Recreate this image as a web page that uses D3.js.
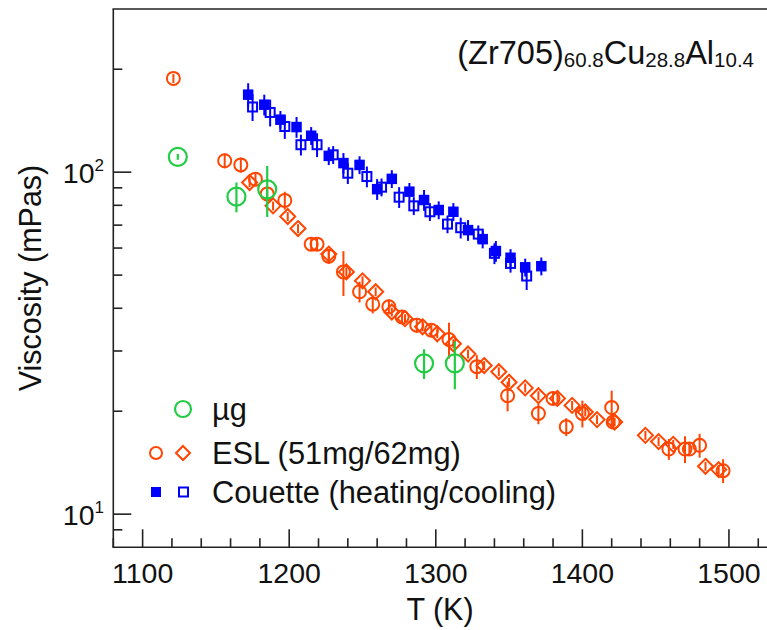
<!DOCTYPE html>
<html><head><meta charset="utf-8">
<script src="https://cdn.jsdelivr.net/npm/d3@7"></script>
<style>
body{margin:0;background:#fff}
svg{display:block}
text{font-family:"Liberation Sans",Arial,Helvetica,sans-serif;fill:#111}
</style>
</head><body>
<svg id="chart" width="767" height="630"></svg>
<script>
// ---- data ----
const xTicks = [1100, 1200, 1300, 1400, 1500];
const yMajor = [10, 100];
const yTickLabels = [["10","1"],["10","2"]];

const ugT   = [1124, 1164, 1185, 1292, 1313];
const ugV   = [110.9, 84.8, 89.1, 27.6, 27.6];
const ugErr = [2, 10, 17, 10, 16]; // percent

const esl51T = [1121,1156,1167,1177,1185,1197,1215,1219,1227,1237,1248,1257,1268,1277,1287,1297,1309,1328,1349,1370,1380,1389,1400,1420,1421,1459,1470,1473,1480,1496];
const esl51V = [188,108,105,95.4,86.4,82.7,61.6,61.6,56.8,51.1,44.7,41.1,40.4,37.7,35.7,34.5,32.4,27.0,22.2,19.7,21.8,18.0,19.7,20.5,18.6,15.5,15.5,15.5,15.9,13.4];
const esl51Err = [3,5,5,4,5,6,4,4,5,15,7,6,5,4,5,4,12,8,10,7,4,6,9,12,4,7,9,4,8,8];

const esl62T = [1173,1189,1199,1206,1227,1239,1250,1259,1270,1279,1291,1301,1312,1322,1333,1343,1350,1361,1370,1383,1393,1402,1410,1422,1443,1452,1462,1484,1493];
const esl62V = [93.3,79.7,74.2,68.4,57.6,51.1,48.1,44.7,39.0,37.3,35.3,33.7,31.5,29.4,27.2,26.1,24.3,23.4,22.2,21.8,20.8,19.9,18.9,18.6,17.0,16.3,16.0,13.8,13.5];
const esl62Err = [3,3,3,3,3,3,3,3,3,3,3,3,3,3,3,3,3,3,3,3,3,3,3,3,3,3,3,3,3];

const heatT = [1172,1183,1194,1205,1215,1227,1237,1248,1260,1270,1282,1292,1302,1312,1322,1332,1341,1351,1361,1372];
const heatV = [168.5,157.5,142.4,135.5,127.8,111.6,106.3,105.0,89.2,95.6,87.7,82.9,77.5,76.6,67.7,63.7,58.8,56.2,52.7,53.1];
const heatErr = [8,7,6,7,6,6,7,6,7,6,6,7,6,6,7,6,7,6,6,6];

const coolT = [1175,1187,1197,1208,1219,1230,1240,1253,1263,1275,1285,1296,1308,1317,1329,1340,1351,1362];
const coolV = [155.1,149.5,136.0,120.3,120.3,112.4,99.3,97.1,90.4,84.5,79.7,76.6,70.5,68.8,65.9,57.9,54.1,49.7];
const coolErr = [9,9,8,7,8,6,7,7,6,7,6,6,6,7,6,7,6,9];

const legendLabels = ["\u00b5g", "ESL (51mg/62mg)", "Couette (heating/cooling)"];

// ---- colours ----
const cGreen = "#22cc44", cOrange = "#ff4500", cBlue = "#0000ff", cAxis = "#222";

// ---- scales ----
const svg = d3.select("#chart");
const x = d3.scaleLinear().domain([1080, 1525]).range([113.3, 765.6]);
const y = d3.scaleLog().domain([8, 300]).range([547.3, 9]);

// ---- frame / axes ----
const axisG = svg.append("g").attr("stroke", cAxis).attr("stroke-width", 1.6).attr("fill","none");
axisG.append("line").attr("x1", 113.3).attr("x2", 113.3).attr("y1", 9).attr("y2", 547.3);
axisG.append("line").attr("x1", 112.5).attr("x2", 767).attr("y1", 547.3).attr("y2", 547.3);
axisG.append("line").attr("x1", 112.5).attr("x2", 767).attr("y1", 9).attr("y2", 9);

// x ticks
const xMinor = d3.range(1080, 1525, 20).filter(t => !xTicks.includes(t));
axisG.selectAll(".xmaj").data(xTicks).join("line")
  .attr("x1", d => x(d)).attr("x2", d => x(d)).attr("y1", 547.3).attr("y2", 529.3);
axisG.selectAll(".xmin").data(xMinor).join("line")
  .attr("x1", d => x(d)).attr("x2", d => x(d)).attr("y1", 547.3).attr("y2", 538.3);
svg.selectAll(".xlab").data(xTicks).join("text")
  .attr("x", d => x(d)).attr("y", 583).attr("text-anchor", "middle")
  .attr("font-size", 28.5).text(d => d);

// y ticks
const yMinorTicks = y.ticks().filter(v => !yMajor.includes(v) && v > 8 && v < 300);
axisG.selectAll(".ymaj").data(yMajor).join("line")
  .attr("x1", 113.3).attr("x2", 131.3).attr("y1", d => y(d)).attr("y2", d => y(d));
axisG.selectAll(".ymin").data(yMinorTicks).join("line")
  .attr("x1", 113.3).attr("x2", 122.3).attr("y1", d => y(d)).attr("y2", d => y(d));
const ylab = svg.selectAll(".ylab").data(yMajor).join("text")
  .attr("x", 104).attr("y", d => y(d) + 10.7).attr("text-anchor", "end").attr("font-size", 28.5);
ylab.append("tspan").text((d, i) => yTickLabels[i][0]);
ylab.append("tspan").attr("dy", -11.5).attr("font-size", 17).text((d, i) => yTickLabels[i][1]);

// axis titles
svg.append("text").attr("x", 440).attr("y", 619.5).attr("text-anchor", "middle")
  .attr("font-size", 30.5).text("T (K)");
svg.append("text").attr("transform", "translate(41,278) rotate(-90)").attr("text-anchor", "middle")
  .attr("font-size", 30.5).text("Viscosity (mPas)");

// composition title
const title = svg.append("text").attr("x", 754).attr("y", 63.5).attr("text-anchor", "end").attr("font-size", 32.5);
[["(Zr705)", false], ["60.8", true], ["Cu", false], ["28.8", true], ["Al", false], ["10.4", true]].forEach(([s, sub]) => {
  title.append("tspan").attr("font-size", sub ? 20.5 : 32.5).attr("dy", sub ? 3 : -3).text(s);
});
title.select("tspan").attr("dy", 0);

// ---- helpers ----
function errBars(g, T, V, E, color, w) {
  g.selectAll(null).data(T.map((t, i) => ({t, v: V[i], e: E[i]}))).join("line")
    .attr("x1", d => x(d.t)).attr("x2", d => x(d.t))
    .attr("y1", d => y(d.v * (1 + d.e / 100))).attr("y2", d => y(d.v * (1 - d.e / 100)))
    .attr("stroke", color).attr("stroke-width", w);
}
function circles(g, T, V, r, color, w) {
  g.selectAll(null).data(T.map((t, i) => ({t, v: V[i]}))).join("circle")
    .attr("cx", d => x(d.t)).attr("cy", d => y(d.v)).attr("r", r)
    .attr("fill", "none").attr("stroke", color).attr("stroke-width", w);
}
function diamonds(g, T, V, s, color, w) {
  g.selectAll(null).data(T.map((t, i) => ({t, v: V[i]}))).join("path")
    .attr("d", d => { const cx = x(d.t), cy = y(d.v); return `M${cx},${cy - s}L${cx + s},${cy}L${cx},${cy + s}L${cx - s},${cy}Z`; })
    .attr("fill", "none").attr("stroke", color).attr("stroke-width", w);
}
function squares(g, T, V, s, color, filled, w) {
  g.selectAll(null).data(T.map((t, i) => ({t, v: V[i]}))).join("rect")
    .attr("x", d => x(d.t) - s / 2).attr("y", d => y(d.v) - s / 2).attr("width", s).attr("height", s)
    .attr("fill", filled ? color : "none").attr("stroke", filled ? "none" : color).attr("stroke-width", w);
}

// ---- data marks ----
const gBlue = svg.append("g");
errBars(gBlue, coolT, coolV, coolErr, cBlue, 2);
squares(gBlue, coolT, coolV, 9, cBlue, false, 2);
errBars(gBlue, heatT, heatV, heatErr, cBlue, 2);
squares(gBlue, heatT, heatV, 10.5, cBlue, true, 0);

const gOr = svg.append("g");
errBars(gOr, esl62T, esl62V, esl62Err, cOrange, 2);
diamonds(gOr, esl62T, esl62V, 7.5, cOrange, 2);
errBars(gOr, esl51T, esl51V, esl51Err, cOrange, 2);
circles(gOr, esl51T, esl51V, 6.5, cOrange, 2);

const gGr = svg.append("g");
errBars(gGr, ugT, ugV, ugErr, cGreen, 2.2);
circles(gGr, ugT, ugV, 9, cGreen, 2.2);

// ---- legend ----
const lg = svg.append("g");
const ly = [409, 453, 492];
lg.append("circle").attr("cx", 183).attr("cy", ly[0]).attr("r", 8).attr("fill", "none").attr("stroke", cGreen).attr("stroke-width", 2.2);
lg.append("circle").attr("cx", 156).attr("cy", ly[1]).attr("r", 6).attr("fill", "none").attr("stroke", cOrange).attr("stroke-width", 2);
lg.append("path").attr("d", `M183,${ly[1]-7}L190,${ly[1]}L183,${ly[1]+7}L176,${ly[1]}Z`).attr("fill", "none").attr("stroke", cOrange).attr("stroke-width", 2);
lg.append("rect").attr("x", 151).attr("y", ly[2] - 5).attr("width", 10).attr("height", 10).attr("fill", cBlue);
lg.append("rect").attr("x", 179).attr("y", ly[2] - 4.5).attr("width", 9).attr("height", 9).attr("fill", "none").attr("stroke", cBlue).attr("stroke-width", 2);
lg.selectAll(".lt").data(legendLabels).join("text")
  .attr("x", 212).attr("y", (d, i) => ly[i] + 10.5).attr("font-size", 30.8).text(d => d);
</script>
</body></html>
